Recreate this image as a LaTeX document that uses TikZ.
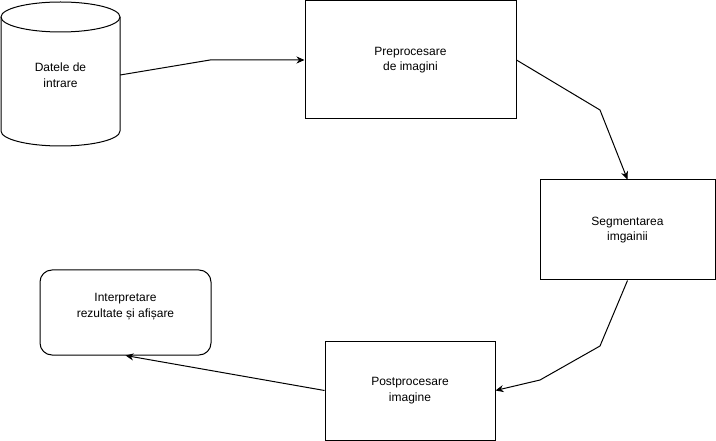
\documentclass[tikz,border=0pt]{standalone}
\usepackage{fontspec}
\setmainfont{Liberation Sans}
\usetikzlibrary{arrows.meta}
\begin{document}
\begin{tikzpicture}[x=1pt,y=-1pt,
  txt/.style={align=center,inner sep=0pt,font=\fontsize{12}{15.5}\selectfont},
  box/.style={txt,draw,line width=1pt},
  arr/.style={line width=1pt,-{Stealth[length=8pt,width=7pt,inset=2.5pt]}}]
\useasboundingbox (0,0) rectangle (716,441);
% cylinder
\draw[line width=1pt] (1,17) -- (1,131) arc[start angle=180,end angle=360,x radius=59.5pt,y radius=15pt] -- (120,17);
\draw[line width=1pt] (60.5,17) ellipse[x radius=59.5pt,y radius=15pt];
\node[txt,minimum width=119pt,minimum height=144pt] (db) at (60.5,75) {Datele de\\intrare};
% boxes
\node[box,minimum width=211pt,minimum height=118pt] (pre) at (410.5,60) {Preprocesare\\de imagini};
\node[box,minimum width=175pt,minimum height=100pt] (seg) at (627.5,230) {Segmentarea\\imgainii};
\node[box,minimum width=170pt,minimum height=99pt] (post) at (410,390.5) {Postprocesare\\imagine};
\node[box,rounded corners=12pt,minimum width=171pt,minimum height=85pt] (interp) at (125.5,312.5) {};
\node[txt] (interpT) at ([yshift=6pt]interp.center) {Interpretare\\rezultate și afișare};
% connectors
\draw[arr] (db.east) -- (210,60) -- (pre.west);
\draw[arr] (pre.east) -- (600,110) -- (seg.north);
\draw[arr] (seg.south) -- (600,346) -- (540,380) -- (post.east);
\draw[arr] (post.west) -- (interp.south);
\end{tikzpicture}
\end{document}
